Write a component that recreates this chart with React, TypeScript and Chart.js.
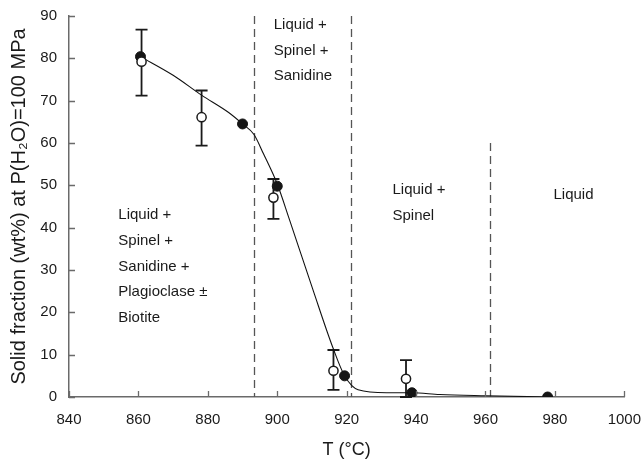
import React, { useEffect, useRef } from "react";
import { Chart, registerables } from "chart.js";

Chart.register(...registerables);

// Filled symbols (solid fraction from mass balance)
const filledT = [860.6, 890.0, 900.0, 919.4, 938.8, 977.9];
const filledV = [80.4, 64.5, 49.8, 5.0, 1.0, 0.0];

// Open symbols with error bars
const openT = [860.9, 878.2, 898.9, 916.2, 937.1];
const openV = [79.2, 66.1, 47.1, 6.2, 4.3];
const openHi = [86.8, 72.4, 51.5, 11.1, 8.7];
const openLo = [71.2, 59.4, 42.1, 1.7, 0.0];

// Fitted curve
const curveT = [860.6, 870, 878.2, 886, 890, 893.3, 896, 900, 903.4, 910.3, 916.1, 919.4, 923.3, 931.5, 938.8, 946.8, 960.2, 977.9];
const curveV = [80.4, 76.0, 71.3, 67.2, 64.5, 62.0, 57.5, 50.3, 42.2, 25.3, 11.5, 5.0, 1.7, 1.0, 1.0, 0.6, 0.3, 0.0];

// Phase boundaries (dashed), T and top value
const boundaryT = [893.3, 921.3, 961.4];
const boundaryTop = [90, 90, 60];

// Field labels
const fieldLines = [
  ["Liquid +", "Spinel +", "Sanidine +", "Plagioclase ±", "Biotite"],
  ["Liquid +", "Spinel +", "Sanidine"],
  ["Liquid +", "Spinel"],
  ["Liquid"],
];
const fieldT = [854.2, 899.0, 933.2, 979.6];
const fieldV = [43.0, 87.9, 48.9, 47.7];

const xTicks = [840, 860, 880, 900, 920, 940, 960, 980, 1000];
const yTicks = [0, 10, 20, 30, 40, 50, 60, 70, 80, 90];

const FONT = "'Liberation Sans', Arial, sans-serif";
const AXIS_COLOR = "#6a6a6a";

const overlayPlugin = {
  id: "overlay",
  beforeDatasetsDraw(chart: any) {
    const { ctx, scales } = chart;
    const x = scales.x, y = scales.y;
    ctx.save();
    // dashed boundaries
    ctx.strokeStyle = "#555";
    ctx.lineWidth = 1.3;
    ctx.setLineDash([8, 5]);
    boundaryT.forEach((t, i) => {
      const px = Math.round(x.getPixelForValue(t)) + 0.5;
      ctx.beginPath();
      ctx.moveTo(px, y.getPixelForValue(boundaryTop[i]));
      ctx.lineTo(px, y.getPixelForValue(0));
      ctx.stroke();
    });
    ctx.setLineDash([]);
    // error bars
    ctx.strokeStyle = "#1a1a1a";
    ctx.lineWidth = 1.8;
    openT.forEach((t, i) => {
      const px = x.getPixelForValue(t);
      const top = y.getPixelForValue(openHi[i]);
      const bot = y.getPixelForValue(openLo[i]);
      ctx.beginPath();
      ctx.moveTo(px, top);
      ctx.lineTo(px, bot);
      ctx.moveTo(px - 6, top);
      ctx.lineTo(px + 6, top);
      ctx.moveTo(px - 6, bot);
      ctx.lineTo(px + 6, bot);
      ctx.stroke();
    });
    ctx.restore();
  },
  afterDraw(chart: any) {
    const { ctx, scales, chartArea } = chart;
    const x = scales.x, y = scales.y;
    ctx.save();
    // inward ticks
    ctx.strokeStyle = AXIS_COLOR;
    ctx.lineWidth = 1.3;
    ctx.beginPath();
    xTicks.forEach((t) => {
      const px = Math.round(x.getPixelForValue(t)) + 0.5;
      ctx.moveTo(px, chartArea.bottom);
      ctx.lineTo(px, chartArea.bottom - 6);
    });
    yTicks.forEach((v) => {
      const py = Math.round(y.getPixelForValue(v)) + 0.5;
      ctx.moveTo(chartArea.left, py);
      ctx.lineTo(chartArea.left + 6, py);
    });
    ctx.stroke();
    // field labels
    ctx.fillStyle = "#1a1a1a";
    ctx.font = `15px ${FONT}`;
    ctx.textAlign = "left";
    ctx.textBaseline = "middle";
    fieldLines.forEach((lines, i) => {
      const px = x.getPixelForValue(fieldT[i]);
      const py = y.getPixelForValue(fieldV[i]);
      lines.forEach((s, j) => ctx.fillText(s, px, py + j * 25.7));
    });
    ctx.restore();
  },
};

export default function App() {
  const ref = useRef<HTMLCanvasElement>(null);
  useEffect(() => {
    const chart = new Chart(ref.current!, {
      type: "scatter",
      data: {
        datasets: [
          {
            label: "open",
            data: openT.map((t, i) => ({ x: t, y: openV[i] })),
            pointRadius: 4.6,
            pointBackgroundColor: "#ffffff",
            pointBorderColor: "#1a1a1a",
            pointBorderWidth: 1.5,
            showLine: false,
          },
          {
            label: "filled",
            data: filledT.map((t, i) => ({ x: t, y: filledV[i] })),
            pointRadius: 5,
            pointBackgroundColor: "#151515",
            pointBorderColor: "#151515",
            pointBorderWidth: 1,
            showLine: false,
          },
          {
            label: "curve",
            data: curveT.map((t, i) => ({ x: t, y: curveV[i] })),
            showLine: true,
            borderColor: "#111",
            borderWidth: 1.1,
            pointRadius: 0,
            cubicInterpolationMode: "monotone",
          } as any,
        ],
      },
      options: {
        animation: false,
        responsive: false,
        layout: { padding: { top: 16, right: 19, left: 0, bottom: 0 } },
        plugins: { legend: { display: false }, tooltip: { enabled: false } },
        scales: {
          x: {
            type: "linear",
            min: 840,
            max: 1000,
            afterBuildTicks: (s: any) => {
              s.ticks = xTicks.map((v) => ({ value: v }));
            },
            afterFit: (s: any) => {
              s.height = 69;
            },
            ticks: {
              font: { family: FONT, size: 15 },
              color: "#1a1a1a",
              padding: 3,
              callback: (v: any) => String(v),
            },
            grid: { display: true, drawOnChartArea: false, drawTicks: true, tickLength: 11, tickColor: "rgba(0,0,0,0)" },
            border: { color: AXIS_COLOR, width: 1.5 },
            title: {
              display: true,
              text: "T (°C)",
              font: { family: FONT, size: 18 },
              color: "#1a1a1a",
              padding: { top: 0, bottom: 5 },
            },
          },
          y: {
            min: 0,
            max: 90,
            afterBuildTicks: (s: any) => {
              s.ticks = yTicks.map((v) => ({ value: v }));
            },
            afterFit: (s: any) => {
              s.width = 69;
            },
            ticks: { font: { family: FONT, size: 15 }, color: "#1a1a1a", padding: 3 },
            grid: { display: true, drawOnChartArea: false, drawTicks: true, tickLength: 9, tickColor: "rgba(0,0,0,0)" },
            border: { color: AXIS_COLOR, width: 1.5 },
            title: {
              display: true,
              text: "Solid fraction (wt%) at P(H₂O)=100 MPa",
              font: { family: FONT, size: 20 },
              color: "#1a1a1a",
              padding: { top: 7, bottom: 0 },
            },
          },
        },
      },
      plugins: [overlayPlugin],
    });
    return () => chart.destroy();
  }, []);
  return (
    <div style={{ position: "fixed", left: 0, top: 0, width: 644, height: 466, background: "#fff" }}>
      <canvas ref={ref} width={644} height={466} style={{ width: 644, height: 466 }} />
    </div>
  );
}
